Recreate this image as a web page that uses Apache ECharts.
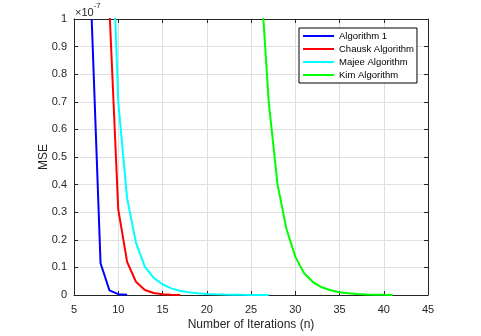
<!DOCTYPE html>
<html><head><meta charset="utf-8">
<script src="https://cdn.jsdelivr.net/npm/echarts@6/dist/echarts.min.js"></script>
<style>html,body{margin:0;padding:0;background:#fff}#c{width:481px;height:336px}</style>
</head><body><div id="c"></div>
<script>
// Data (MSE values in units of 1e-7)
const algo1X = [7, 8, 9, 10, 11];
const algo1Y = [1.0, 0.115, 0.017, 0.003, 0.0005];
const chauskX = [9, 10, 11, 12, 13, 14, 15, 16, 17];
const chauskY = [1.04, 0.31, 0.12, 0.048, 0.018, 0.007, 0.0025, 0.001, 0.0004];
const majeeX = [9, 10, 11, 12, 13, 14, 15, 16, 17, 18, 19, 20, 21, 22, 23, 24, 25, 26, 27];
const majeeY = [1.6, 0.70, 0.35, 0.19, 0.103, 0.062, 0.039, 0.024, 0.015, 0.0095, 0.006, 0.0038, 0.0024, 0.0015, 0.001, 0.0006, 0.0004, 0.00025, 0.00015];
const kimX = [26, 27, 28, 29, 30, 31, 32, 33, 34, 35, 36, 37, 38, 39, 40, 41];
const kimY = [1.2, 0.70, 0.40, 0.24, 0.139, 0.079, 0.047, 0.028, 0.017, 0.010, 0.006, 0.0035, 0.002, 0.0012, 0.0007, 0.0004];
const xTicks = [5, 10, 15, 20, 25, 30, 35, 40, 45];
const yTicks = [0, 0.1, 0.2, 0.3, 0.4, 0.5, 0.6, 0.7, 0.8, 0.9, 1];
const names = ['Algorithm 1', 'Chausk Algorithm', 'Majee Algorithm', 'Kim Algorithm'];
const colors = ['#0000ff', '#ff0000', '#00ffff', '#00ff00'];

const pairs = (xs, ys) => xs.map((x, i) => [x, ys[i]]);
const seriesData = [pairs(algo1X, algo1Y), pairs(chauskX, chauskY), pairs(majeeX, majeeY), pairs(kimX, kimY)];

const FONT = 'Liberation Sans, Arial, sans-serif';
const axisCol = '#262626';
const chart = echarts.init(document.getElementById('c'), null, {renderer: 'canvas'});
const baseX = {
  type: 'value', min: xTicks[0], max: xTicks[xTicks.length - 1], interval: 5,
  axisLine: {show: true, onZero: false, lineStyle: {color: axisCol, width: 1}},
  axisTick: {show: true, inside: true, length: 4, lineStyle: {color: axisCol}},
  splitLine: {show: false}
};
const baseY = {
  type: 'value', min: yTicks[0], max: yTicks[yTicks.length - 1], interval: 0.1,
  axisLine: {show: true, onZero: false, lineStyle: {color: axisCol, width: 1}},
  axisTick: {show: true, inside: true, length: 4, lineStyle: {color: axisCol}},
  splitLine: {show: false}
};
chart.setOption({
  animation: false,
  backgroundColor: '#fff',
  grid: {left: 74, right: 53, top: 19, bottom: 39, containLabel: false},
  xAxis: [
    Object.assign({}, baseX, {
      position: 'bottom',
      name: 'Number of Iterations (n)', nameLocation: 'middle', nameGap: 24, nameMoveOverlap: false,
      nameTextStyle: {fontFamily: FONT, fontSize: 12, color: '#262626'},
      axisLabel: {fontFamily: FONT, fontSize: 11, color: '#262626', margin: 9},
      splitLine: {show: true, lineStyle: {color: '#dfdfdf', width: 1}}
    }),
    Object.assign({}, baseX, {position: 'top', axisLabel: {show: false}})
  ],
  yAxis: [
    Object.assign({}, baseY, {
      position: 'left',
      name: 'MSE', nameLocation: 'middle', nameGap: 24, nameRotate: 90, nameMoveOverlap: false,
      nameTextStyle: {fontFamily: FONT, fontSize: 12, color: '#262626'},
      axisLabel: {fontFamily: FONT, fontSize: 11, color: '#262626', margin: 7,
        formatter: v => String(Math.round(v * 10) / 10)},
      splitLine: {show: true, lineStyle: {color: '#dfdfdf', width: 1}}
    }),
    Object.assign({}, baseY, {position: 'right', axisLabel: {show: false}})
  ],
  legend: {
    orient: 'vertical', left: 299, top: 28, itemGap: 3,
    itemWidth: 31, itemHeight: 10,
    padding: [3, 3, 3, 4],
    borderColor: '#000', borderWidth: 1, backgroundColor: '#fff',
    textStyle: {fontFamily: FONT, fontSize: 9.5, color: '#000'},
    icon: 'path://M0,4 L31,4 L31,6 L0,6 Z',
    data: names
  },
  graphic: [{
    type: 'text', left: 75, top: 2,
    style: {
      text: '{a|×10}{b|-7}', fontFamily: FONT,
      rich: {a: {fontSize: 11, fill: '#262626', fontFamily: FONT, verticalAlign: 'bottom', lineHeight: 16},
             b: {fontSize: 8, fill: '#262626', fontFamily: FONT, verticalAlign: 'top', lineHeight: 10}}
    }
  }],
  series: names.map((n, i) => ({
    name: n, type: 'line', data: seriesData[i], xAxisIndex: 0, yAxisIndex: 0,
    showSymbol: false, symbol: 'none', clip: true,
    lineStyle: {color: colors[i], width: 2}, itemStyle: {color: colors[i]}
  }))
});
</script></body></html>
